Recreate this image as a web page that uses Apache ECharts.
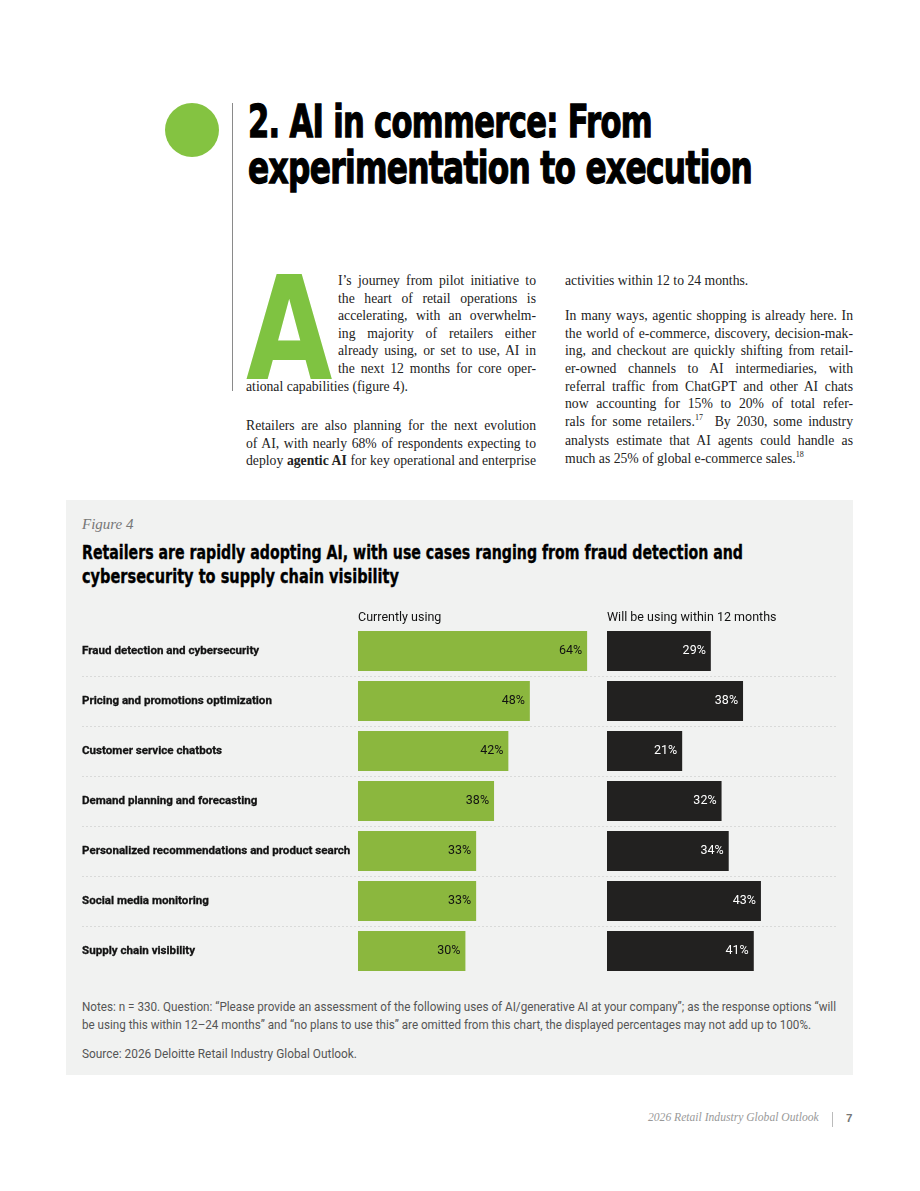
<!DOCTYPE html>
<html>
<head>
<meta charset="utf-8">
<script src="https://cdn.jsdelivr.net/npm/echarts@6/dist/echarts.min.js"></script>
<style>
  html, body { margin: 0; padding: 0; background: #fff; }
  body { width: 920px; height: 1191px; position: relative; overflow: hidden; }
  .abs { position: absolute; }
  .fit { display: block; white-space: nowrap; transform-origin: 0 0; width: max-content; }
  .dot { left: 165px; top: 103px; width: 54px; height: 54px; border-radius: 50%; background: #84c341; }
  .vline { left: 232px; top: 103px; width: 1px; height: 288px; background: #8a8a8a; }
  .heading { left: 248px; top: 99px; font-family: "DejaVu Sans", sans-serif;
    font-weight: bold; font-size: 45px; line-height: 46px; color: #000; letter-spacing: -1px;
    -webkit-text-stroke: 1.3px #000; }
  .col { font-family: "Liberation Serif", serif; font-size: 13.7px; line-height: 17.6px; color: #222; }
  .col div { text-align: justify; text-align-last: justify; white-space: nowrap; }
  .col div.last { text-align-last: left; }
  .sup { font-size: 8px; position: relative; top: -6px; }
  .dropcap { left: 246px; top: 256px; font-family: "DejaVu Sans", sans-serif; font-weight: bold;
    font-size: 145px; line-height: 145px; color: #7fc341; transform: scaleX(0.77); transform-origin: 0 0; }
  .panel { left: 66px; top: 500px; width: 787px; height: 575px; background: #f1f2f1; }
  .fig { left: 82px; top: 516px; font-family: "Liberation Serif", serif; font-style: italic; font-size: 15px; color: #777; }
  .ctitle { left: 82px; top: 540px; font-family: "DejaVu Sans", sans-serif; font-weight: bold;
    font-size: 19px; line-height: 24px; color: #000; -webkit-text-stroke: 0.4px #000; }
  .notes { left: 82px; top: 997px; font-family: "Roboto", sans-serif;
    font-size: 13.5px; line-height: 18px; color: #555; }
  .footer { top: 1111px; font-family: "Liberation Serif", serif; font-style: italic; font-size: 11.6px; color: #999; }
  #chart { left: 66px; top: 600px; width: 787px; height: 385px; }
</style>
</head>
<body>
<div class="abs dot"></div>
<div class="abs vline"></div>
<div class="abs heading">
  <span class="fit" data-w="404">2. AI in commerce: From</span>
  <span class="fit" data-w="504">experimentation to execution</span>
</div>

<div class="abs dropcap">A</div>
<div class="abs col" style="left:338px; top:272px; width:198px;">
  <div>I’s journey from pilot initiative to</div>
  <div>the heart of retail operations is</div>
  <div>accelerating, with an overwhelm-</div>
  <div>ing majority of retailers either</div>
  <div>already using, or set to use, AI in</div>
  <div>the next 12 months for core oper-</div>
</div>
<div class="abs col" style="left:246px; top:377.6px; width:290px;">
  <div class="last">ational capabilities (figure 4).</div>
</div>
<div class="abs col" style="left:246px; top:417px; width:290px;">
  <div>Retailers are also planning for the next evolution</div>
  <div>of AI, with nearly 68% of respondents expecting to</div>
  <div>deploy <b>agentic AI</b> for key operational and enterprise</div>
</div>
<div class="abs col" style="left:565px; top:272px; width:288px;">
  <div class="last">activities within 12 to 24 months.</div>
  <div class="last">&nbsp;</div>
  <div>In many ways, agentic shopping is already here. In</div>
  <div>the world of e-commerce, discovery, decision-mak-</div>
  <div>ing, and checkout are quickly shifting from retail-</div>
  <div>er-owned channels to AI intermediaries, with</div>
  <div>referral traffic from ChatGPT and other AI chats</div>
  <div>now accounting for 15% to 20% of total refer-</div>
  <div>rals for some retailers.<span class="sup">17</span>&nbsp; By 2030, some industry</div>
  <div>analysts estimate that AI agents could handle as</div>
  <div class="last">much as 25% of global e-commerce sales.<span class="sup">18</span></div>
</div>

<div class="abs panel"></div>
<div class="abs fig">Figure 4</div>
<div class="abs ctitle">
  <span class="fit" data-w="661">Retailers are rapidly adopting AI, with use cases ranging from fraud detection and</span>
  <span class="fit" data-w="317">cybersecurity to supply chain visibility</span>
</div>
<div class="abs" id="chart"></div>
<div class="abs notes">
  <span class="fit" data-w="754">Notes: n = 330. Question: “Please provide an assessment of the following uses of AI/generative AI at your company”; as the response options “will</span>
  <span class="fit" data-w="729">be using this within 12–24 months” and “no plans to use this” are omitted from this chart, the displayed percentages may not add up to 100%.</span>
  <span class="fit" data-w="275" style="margin-top:11px">Source: 2026 Deloitte Retail Industry Global Outlook.</span>
</div>

<div class="abs footer" style="left:648px;">2026 Retail Industry Global Outlook</div>
<div class="abs" style="left:832px; top:1112px; width:1px; height:15px; background:#bbb;"></div>
<div class="abs footer" style="left:846px; font-style:normal; font-family:'Liberation Sans', sans-serif; font-weight:bold; color:#777;">7</div>

<script>
const categories = [
  'Fraud detection and cybersecurity',
  'Pricing and promotions optimization',
  'Customer service chatbots',
  'Demand planning and forecasting',
  'Personalized recommendations and product search',
  'Social media monitoring',
  'Supply chain visibility'
];
const currentUsing = [64, 48, 42, 38, 33, 33, 30];
const within12Months = [29, 38, 21, 32, 34, 43, 41];
const seriesNames = ['Currently using', 'Will be using within 12 months'];

// squeeze the condensed page text to its measured width
document.querySelectorAll('.fit').forEach(el => {
  const w = el.getBoundingClientRect().width;
  el.style.transform = 'scaleX(' + (el.dataset.w / w) + ')';
});

const chart = echarts.init(document.getElementById('chart'));
const sans = 'Roboto, sans-serif';
const pxPerPct = 3.58;
const leftMax = 70, rightMax = 60;

const option = {
  animation: false,
  textStyle: { fontFamily: sans },
  title: [
    { text: seriesNames[0], left: 292, top: 11, padding: 0, textStyle: { fontFamily: sans, fontSize: 12.5, fontWeight: 'normal', color: '#111' } },
    { text: seriesNames[1], left: 541, top: 11, padding: 0, textStyle: { fontFamily: sans, fontSize: 12.5, fontWeight: 'normal', color: '#111' } }
  ],
  grid: [
    { left: 16, top: 26, width: 754, height: 350 },
    { left: 292, top: 26, width: leftMax * pxPerPct, height: 350 },
    { left: 541, top: 26, width: rightMax * pxPerPct, height: 350 }
  ],
  xAxis: [
    { gridIndex: 0, type: 'value', show: false, min: 0, max: 100 },
    { gridIndex: 1, type: 'value', show: false, min: 0, max: leftMax },
    { gridIndex: 2, type: 'value', show: false, min: 0, max: rightMax }
  ],
  yAxis: [
    {
      gridIndex: 0, type: 'category', inverse: true, data: categories,
      axisLine: { show: false }, axisTick: { show: false }, axisLabel: { show: false },
      splitLine: { show: true, showMinLine: false, showMaxLine: false, lineStyle: { color: '#d9dad9', type: [2, 2], width: 1 } }
    },
    {
      gridIndex: 1, type: 'category', inverse: true, data: categories,
      axisLine: { show: false }, axisTick: { show: false },
      axisLabel: { align: 'left', margin: 276, fontFamily: sans, fontWeight: 'bold', fontSize: 11.6, color: '#111',
        textBorderColor: '#111', textBorderWidth: 0.3 }
    },
    {
      gridIndex: 2, type: 'category', inverse: true, data: categories,
      axisLine: { show: false }, axisTick: { show: false }, axisLabel: { show: false }
    }
  ],
  series: [
    {
      name: seriesNames[0], type: 'bar', xAxisIndex: 1, yAxisIndex: 1, data: currentUsing, barWidth: 40,
      itemStyle: { color: '#8bb73e' },
      label: { show: true, position: 'insideRight', distance: 5, formatter: '{c}%', fontFamily: sans, fontSize: 12.5, color: '#111' }
    },
    {
      name: seriesNames[1], type: 'bar', xAxisIndex: 2, yAxisIndex: 2, data: within12Months, barWidth: 40,
      itemStyle: { color: '#222120' },
      label: { show: true, position: 'insideRight', distance: 5, formatter: '{c}%', fontFamily: sans, fontSize: 12.5, color: '#fff' }
    }
  ]
};
chart.setOption(option);
</script>
</body>
</html>
